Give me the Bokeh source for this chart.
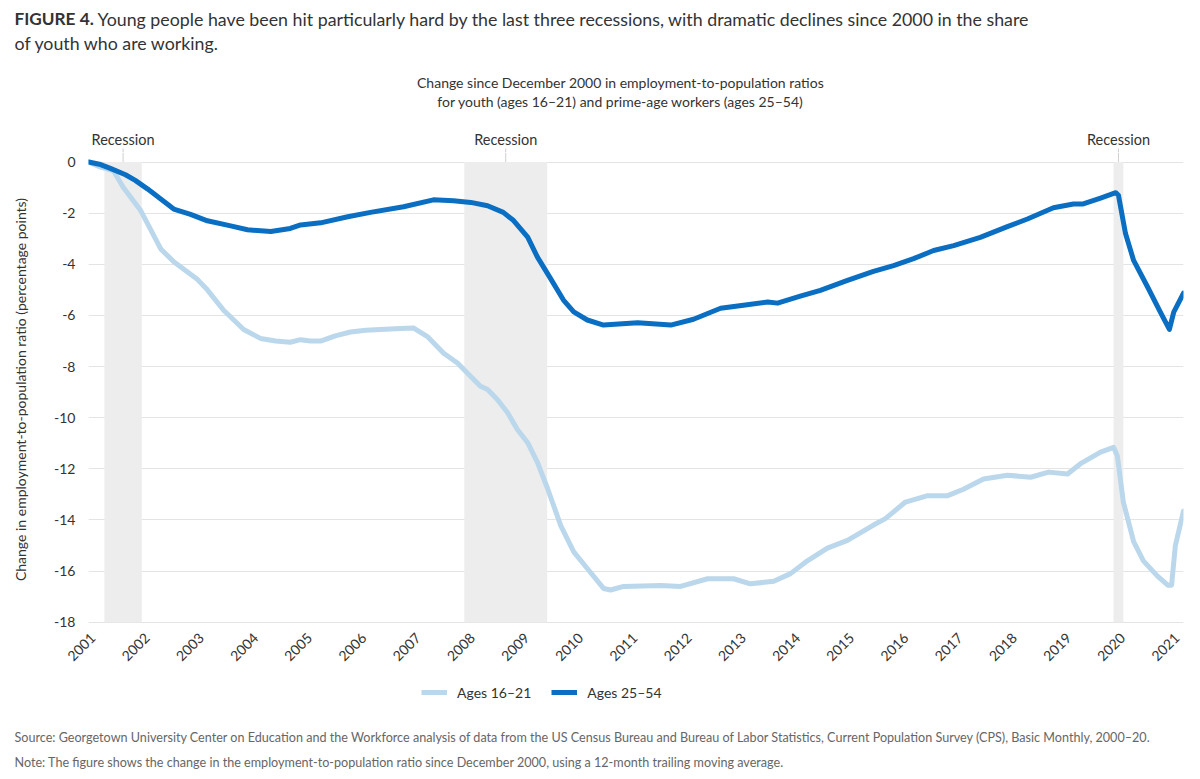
import math
from bokeh.plotting import figure
from bokeh.layouts import column
from bokeh.models import (ColumnDataSource, Range1d, FixedTicker, Legend, LegendItem)
from bokeh.core.properties import value
from bokeh.embed import file_html
from bokeh.resources import INLINE

# ---------------- data ----------------
youth_t = [2000.92, 2001.14, 2001.38, 2001.56, 2001.88, 2002.25, 2002.49, 2002.93, 2003.11,
           2003.41, 2003.78, 2004.09, 2004.37, 2004.64, 2004.83, 2005.01, 2005.21, 2005.47,
           2005.75, 2006.03, 2006.30, 2006.58, 2006.91, 2007.17, 2007.47, 2007.73, 2007.97,
           2008.15, 2008.28, 2008.46, 2008.65, 2008.83, 2009.02, 2009.20, 2009.39, 2009.63,
           2009.87, 2010.12, 2010.42, 2010.55, 2010.79, 2011.47, 2011.84, 2012.34, 2012.82,
           2013.13, 2013.56, 2013.87, 2014.18, 2014.55, 2014.92, 2015.40, 2015.62, 2015.99,
           2016.40, 2016.77, 2017.06, 2017.43, 2017.87, 2018.30, 2018.63, 2018.98, 2019.22,
           2019.59, 2019.83, 2019.90, 2020.01, 2020.20, 2020.38, 2020.64, 2020.83, 2020.90,
           2020.97, 2021.12]
youth_v = [0.0, -0.2, -0.35, -1.0, -1.9, -3.4, -3.9, -4.6, -5.0,
           -5.8, -6.55, -6.9, -7.0, -7.05, -6.95, -7.0, -7.0, -6.8,
           -6.65, -6.58, -6.55, -6.52, -6.49, -6.83, -7.48, -7.87, -8.39,
           -8.77, -8.9, -9.29, -9.81, -10.46, -10.98, -11.75, -12.79, -14.22,
           -15.25, -15.9, -16.68, -16.74, -16.6, -16.56, -16.6, -16.3, -16.3,
           -16.5, -16.4, -16.1, -15.6, -15.1, -14.8, -14.2, -13.95, -13.3,
           -13.05, -13.05, -12.8, -12.4, -12.25, -12.33, -12.13, -12.2, -11.8,
           -11.35, -11.16, -11.5, -13.3, -14.85, -15.6, -16.2, -16.55, -16.55,
           -15.0, -13.65]

prime_t = [2000.92, 2001.14, 2001.32, 2001.60, 2001.78, 2002.01, 2002.25, 2002.49, 2002.80,
           2003.11, 2003.54, 2003.85, 2004.28, 2004.64, 2004.83, 2005.20, 2005.70, 2006.12,
           2006.73, 2007.28, 2007.65, 2007.97, 2008.28, 2008.57, 2008.76, 2009.02, 2009.20,
           2009.44, 2009.68, 2009.87, 2010.12, 2010.42, 2011.05, 2011.66, 2012.08, 2012.58,
           2013.00, 2013.45, 2013.63, 2014.05, 2014.42, 2014.92, 2015.40, 2015.77, 2016.14,
           2016.51, 2016.88, 2017.37, 2017.87, 2018.24, 2018.72, 2019.09, 2019.27, 2019.59,
           2019.87, 2019.92, 2020.05, 2020.20, 2020.46, 2020.70, 2020.86, 2020.94, 2021.12]
prime_v = [0.0, -0.1, -0.25, -0.5, -0.72, -1.06, -1.45, -1.84, -2.05,
           -2.3, -2.5, -2.65, -2.72, -2.6, -2.46, -2.38, -2.14, -1.97,
           -1.75, -1.48, -1.52, -1.58, -1.71, -1.97, -2.29, -2.94, -3.72,
           -4.55, -5.4, -5.86, -6.18, -6.38, -6.29, -6.38, -6.15, -5.72,
           -5.6, -5.48, -5.52, -5.25, -5.02, -4.63, -4.28, -4.05, -3.78,
           -3.46, -3.27, -2.95, -2.53, -2.23, -1.79, -1.64, -1.64, -1.41,
           -1.2, -1.3, -2.8, -3.85, -4.9, -5.9, -6.55, -5.87, -5.13]

recession_start = [2001.21, 2007.85, 2019.83]
recession_end = [2001.90, 2009.38, 2020.01]
recession_label = ["Recession", "Recession", "Recession"]

year_ticks = list(range(2001, 2022))
y_ticks = [0, -2, -4, -6, -8, -10, -12, -14, -16, -18]
series_names = ["Ages 16\u201321", "Ages 25\u201354"]

title_bold = "FIGURE 4."
title_rest_1 = ("Young people have been hit particularly hard by the last three recessions, "
                "with dramatic declines since 2000 in the share")
title_line_2 = "of youth who are working."
subtitle_1 = "Change since December 2000 in employment-to-population ratios"
subtitle_2 = "for youth (ages 16\u201321) and prime-age workers (ages 25\u201354)"
y_label = "Change in employment-to-population ratio (percentage points)"
source_text = ("Source: Georgetown University Center on Education and the Workforce analysis of data from the US "
               "Census Bureau and Bureau of Labor Statistics, Current Population Survey (CPS), Basic Monthly, 2000\u201320.")
note_text = ("Note: The figure shows the change in the employment-to-population ratio since December 2000, "
             "using a 12-month trailing moving average.")

# ---------------- layout (page pixels) ----------------
FONT = "Lato"
TXT = "#333333"
GREY = "#666666"
LIGHT = "#bad7ec"
DARK = "#0a6fc2"
W = 1192
TOP_H = 152            # top strip: page 0 .. 152
FL, FR = 88, 1183      # frame left / right
FT, FB = 152, 626      # frame top / bottom
MAIN_BOTTOM = 676
PAGE_BOTTOM = 771
Y_ZERO_PX, Y_MIN_PX = 161.5, 621.7
PPU_Y = (Y_MIN_PX - Y_ZERO_PX) / 18.0
X0, X1 = 2000.917, 2021.120
PPY = (FR - FL) / (X1 - X0)
Y1 = (Y_ZERO_PX - FT) / PPU_Y
Y0 = -18 - (FB - Y_MIN_PX) / PPU_Y


def yr(px):
    return X0 + (px - FL) / PPY


def strip(height, top_px):
    f = figure(width=W, height=height, output_backend="svg", toolbar_location=None,
               x_range=Range1d(0, W), y_range=Range1d(top_px + height, top_px),
               x_axis_type=None, y_axis_type=None, min_border=0, frame_align=False)
    f.outline_line_color = None
    f.background_fill_color = "white"
    f.border_fill_color = "white"
    return f


def txt(f, px, py, text, size, style="normal", color=TXT, align="left"):
    f.text(x=[px], y=[py], text=[text], text_font=value(FONT), text_font_size=size,
           text_font_style=style, text_color=color, text_align=align,
           text_baseline="middle")


# ---- top strip: title, subtitle, recession labels ----
top = strip(TOP_H, 0)
top.extra_x_ranges = {"yr": Range1d(yr(0), yr(W))}
txt(top, 14, 18, title_bold, "17.2px", style="bold")
txt(top, 97, 18, title_rest_1, "17.8px")
txt(top, 14, 42, title_line_2, "17.8px")
txt(top, 620, 82, subtitle_1, "14px", align="center")
txt(top, 620, 101, subtitle_2, "14px", align="center")
centers = [(a + b) / 2 for a, b in zip(recession_start, recession_end)]
top.text(x=centers, y=[139] * len(centers), text=recession_label, x_range_name="yr",
         text_font=value(FONT), text_font_size="14.5px", text_color=TXT,
         text_align="center", text_baseline="middle")
top.segment(x0=centers, x1=centers, y0=[148] * 3, y1=[TOP_H] * 3, x_range_name="yr",
            line_color="#cfcfcf", line_width=1)

# ---- main chart ----
p = figure(width=W, height=MAIN_BOTTOM - FT, output_backend="svg", toolbar_location=None,
           x_range=Range1d(X0, X1), y_range=Range1d(Y0, Y1),
           min_border_left=FL, min_border_right=W - FR,
           min_border_top=0, min_border_bottom=MAIN_BOTTOM - FB, frame_align=False)
p.outline_line_color = None
p.background_fill_color = "white"
p.border_fill_color = "white"

rec_src = ColumnDataSource(dict(left=recession_start, right=recession_end,
                                bottom=[min(y_ticks)] * 3, top=[max(y_ticks)] * 3))
p.quad(left="left", right="right", bottom="bottom", top="top", source=rec_src,
       fill_color="#ecedec", line_color=None)
p.segment(x0=centers, x1=centers, y0=[max(y_ticks)] * 3, y1=[Y1] * 3,
          line_color="#cfcfcf", line_width=1)

p.line(youth_t, youth_v, line_color=LIGHT, line_width=5, line_join="round", line_cap="round")
p.line(prime_t, prime_v, line_color=DARK, line_width=5, line_join="round", line_cap="round")

for ax in (p.xaxis, p.yaxis):
    ax.major_label_text_font = FONT
    ax.major_label_text_font_size = "14px"
    ax.major_label_text_color = TXT
    ax.axis_line_color = None
    ax.major_tick_line_color = None
    ax.minor_tick_line_color = None
    ax.major_tick_out = 0
    ax.major_tick_in = 0
    ax.minor_tick_out = 0
    ax.minor_tick_in = 0

p.xaxis.ticker = FixedTicker(ticks=year_ticks)
p.xaxis.major_label_orientation = math.pi / 4
p.xaxis.major_label_standoff = 9

p.yaxis.ticker = FixedTicker(ticks=y_ticks)
p.yaxis.major_label_overrides = {t: str(t) for t in y_ticks}
p.yaxis.major_label_standoff = 13
p.yaxis.axis_label = y_label
p.yaxis.axis_label_text_font = FONT
p.yaxis.axis_label_text_font_size = "14px"
p.yaxis.axis_label_text_font_style = "normal"
p.yaxis.axis_label_text_color = TXT
p.yaxis.axis_label_standoff = 22

p.xgrid.grid_line_color = None
p.ygrid.grid_line_color = "#e4e4e4"
p.ygrid.grid_line_width = 1.2

# ---- bottom strip: legend, source, note ----
bot = strip(PAGE_BOTTOM - MAIN_BOTTOM, MAIN_BOTTOM)
g_youth = bot.line(x=[-30, -20], y=[700, 700], line_color=LIGHT, line_width=5)
g_prime = bot.line(x=[-30, -20], y=[700, 700], line_color=DARK, line_width=5)
legend = Legend(items=[LegendItem(label=series_names[0], renderers=[g_youth]),
                       LegendItem(label=series_names[1], renderers=[g_prime])],
                orientation="horizontal", location=(421, PAGE_BOTTOM - 692 - 9),
                label_text_font=FONT, label_text_font_size="14px", label_text_color=TXT,
                glyph_width=26, glyph_height=18, label_standoff=10, spacing=20,
                padding=0, margin=0, border_line_color=None, background_fill_alpha=0)
bot.add_layout(legend)
txt(bot, 14, 737, source_text, "12.6px", color=GREY)
txt(bot, 14, 762, note_text, "12.6px", color=GREY)

layout = column(top, p, bot, spacing=0)
open("out.html", "w").write(file_html(layout, INLINE))
